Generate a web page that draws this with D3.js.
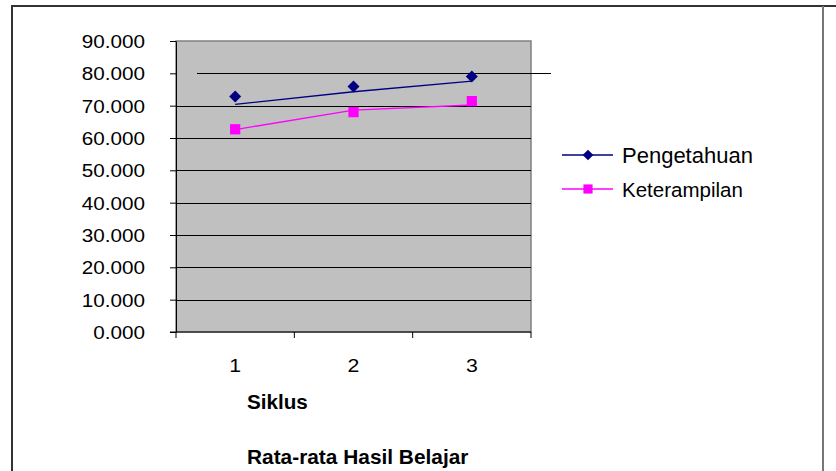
<!DOCTYPE html>
<html>
<head>
<meta charset="utf-8">
<script src="https://cdn.jsdelivr.net/npm/d3@7"></script>
<style>
  body { margin: 0; background: #fff; }
  text { font-family: "Liberation Sans", Arial, sans-serif; fill: #000; }
</style>
</head>
<body>
<div class="box"></div>
<script>
// donnees
const siklus = [1, 2, 3];
const pengetahuan = [72.8, 75.9, 79.0];       // marqueurs
const pengetahuanGaris = [70.4, 74.3, 77.6];  // ligne (decalee des marqueurs)
const keterampilan = [62.7, 68.0, 71.4];
const keterampilanGaris = [62.6, 68.6, 70.2];
const yTicks = [0, 10, 20, 30, 40, 50, 60, 70, 80, 90];

const dims = {width: 836, height: 471};
const plot = {left: 176, right: 531, top: 41, bottom: 332};

const svg = d3.select('.box')
              .append('svg')
              .attr('width', dims.width)
              .attr('height', dims.height);

// cadre
svg.append('path')
   .attr('d', `M12,${dims.height} V6 H${dims.width}`)
   .attr('fill', 'none').attr('stroke', '#333').attr('stroke-width', 2);
svg.append('line')
   .attr('x1', 823).attr('x2', 823).attr('y1', 6).attr('y2', dims.height)
   .attr('stroke', '#777').attr('stroke-width', 2);

const x = d3.scaleBand().domain(siklus).range([plot.left, plot.right]);
const y = d3.scaleLinear().domain([0, 90]).range([plot.bottom, plot.top]);

// fond gris
svg.append('rect')
   .attr('x', plot.left).attr('y', plot.top)
   .attr('width', plot.right - plot.left).attr('height', plot.bottom - plot.top)
   .attr('fill', '#c0c0c0').attr('stroke', '#808080').attr('stroke-width', 1.5);

// grille
svg.append('g').selectAll('line')
   .data(yTicks.filter(d => d > 0 && d < 80))
   .enter().append('line')
   .attr('x1', plot.left).attr('x2', plot.right)
   .attr('y1', d => Math.round(y(d)) + 0.5).attr('y2', d => Math.round(y(d)) + 0.5)
   .attr('stroke', '#000');
// la ligne 80 est decalee dans l'original
svg.append('line')
   .attr('x1', plot.left + 21).attr('x2', plot.right + 20)
   .attr('y1', Math.round(y(80)) + 0.5).attr('y2', Math.round(y(80)) + 0.5)
   .attr('stroke', '#000');

// etire un texte horizontalement
const stretch = (sel, sx) => {
  sel.each(function() {
    const t = d3.select(this);
    const tx = +t.attr('x') || 0, ty = +t.attr('y') || 0;
    t.attr('x', 0).attr('y', 0)
     .attr('transform', `translate(${tx},${ty}) scale(${sx},1)`);
  });
};

// axe y
const yAxis = svg.append('g')
   .attr('transform', `translate(${plot.left},0)`)
   .call(d3.axisLeft(y).tickValues(yTicks).tickFormat(d3.format('.3f'))
           .tickSize(6).tickPadding(25).tickSizeOuter(0));
yAxis.select('.domain').attr('stroke', '#000');
yAxis.selectAll('.tick line').attr('stroke', '#000');
yAxis.selectAll('text')
     .attr('font-size', 18).attr('fill', '#000')
     .attr('font-family', '"Liberation Sans", Arial, sans-serif')
     .attr('dy', null).attr('y', 6.5)
     .call(stretch, 1.15);

// axe x
const xAxis = svg.append('g')
   .attr('transform', `translate(0,${plot.bottom})`);
xAxis.append('line')
     .attr('x1', plot.left - 6).attr('x2', plot.right)
     .attr('stroke', '#000');
xAxis.selectAll('.tk')
     .data(siklus.map(d => x(d)).concat([plot.right]))
     .enter().append('line')
     .attr('x1', d => d).attr('x2', d => d).attr('y1', 0).attr('y2', 6)
     .attr('stroke', '#000');
xAxis.selectAll('.lbl')
     .data(siklus)
     .enter().append('text')
     .attr('x', d => x(d) + x.bandwidth() / 2)
     .attr('y', 40)
     .attr('text-anchor', 'middle')
     .attr('font-size', 18.5)
     .text(d => d)
     .call(stretch, 1.15);

// series
const xc = d => x(d) + x.bandwidth() / 2;
const ligne = d3.line().x((d, i) => xc(siklus[i])).y(d => y(d));

const series = [
  {nom: 'Pengetahuan', pts: pengetahuan, garis: pengetahuanGaris, couleur: '#000080', rot: 45, taille: 72},
  {nom: 'Keterampilan', pts: keterampilan, garis: keterampilanGaris, couleur: '#ff00ff', rot: 0, taille: 105}
];

series.forEach(s => {
  svg.append('path')
     .attr('d', ligne(s.garis))
     .attr('fill', 'none').attr('stroke', s.couleur).attr('stroke-width', 1.3);
  svg.append('g').selectAll('path')
     .data(s.pts)
     .enter().append('path')
     .attr('transform', (d, i) => `translate(${xc(siklus[i])},${y(d)}) rotate(${s.rot})`)
     .attr('d', d3.symbol().type(d3.symbolSquare).size(s.taille))
     .attr('fill', s.couleur);
});

// legende
const legende = svg.append('g').attr('transform', 'translate(562,0)');
const legY = [155, 189];
const legFont = [22, 20.5];
series.forEach((s, i) => {
  legende.append('line')
         .attr('x1', 0).attr('x2', 51).attr('y1', legY[i]).attr('y2', legY[i])
         .attr('stroke', s.couleur).attr('stroke-width', 1.3);
  legende.append('path')
         .attr('transform', `translate(26,${legY[i]}) rotate(${s.rot})`)
         .attr('d', d3.symbol().type(d3.symbolSquare).size(s.taille * 0.8))
         .attr('fill', s.couleur);
  legende.append('text')
         .attr('x', 60).attr('y', legY[i] + 8)
         .attr('font-size', legFont[i])
         .text(s.nom);
});

// titres
svg.append('text')
   .attr('x', 247).attr('y', 409)
   .attr('font-size', 19.5).attr('font-weight', 'bold')
   .text('Siklus')
   .call(stretch, 1.06);
svg.append('text')
   .attr('x', 247).attr('y', 464)
   .attr('font-size', 19.5).attr('font-weight', 'bold')
   .text('Rata-rata Hasil Belajar')
   .call(stretch, 1.07);
</script>
</body>
</html>
